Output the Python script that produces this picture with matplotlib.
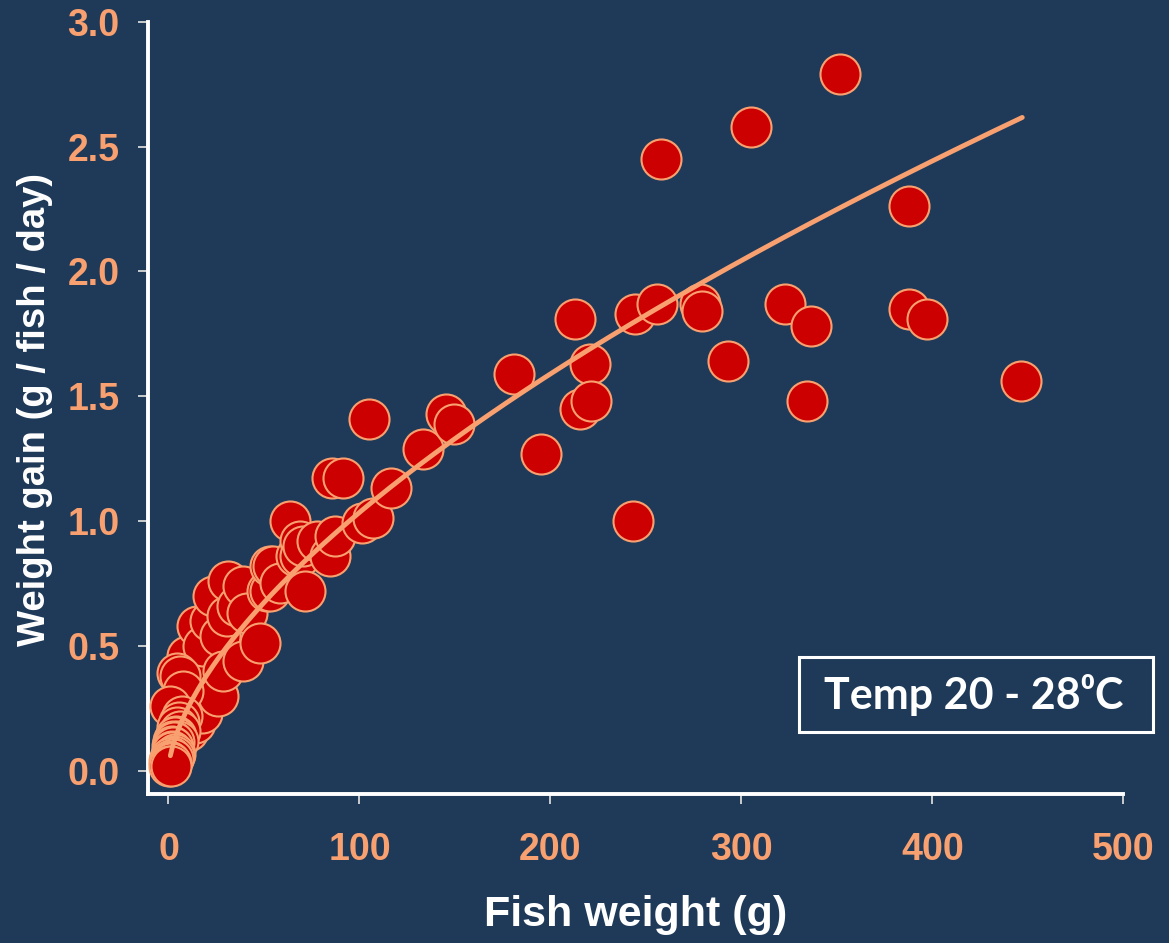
import numpy as np
import matplotlib
matplotlib.use("Agg")
import matplotlib.pyplot as plt
from matplotlib.patches import Rectangle

# ---- data ----
fish_weight = [
    351.7, 304.8, 258.0, 387.5,
    213.0, 244.2, 255.6, 278.3, 279.5, 322.6, 336.4, 387.5, 397.1, 292.8, 334.3, 446.5,
    243.0, 195.2, 180.9, 220.7, 215.4, 221.4,
    145.3, 149.5, 133.4, 105.0, 116.3, 85.4, 91.5,
    63.6, 107.2, 101.1, 87.2, 84.6, 68.8, 68.8, 77.6, 71.5, 54.9, 58.4, 53.1,
    66.8, 70.5,
    51.4, 53.1, 47.9, 31.3, 39.2, 23.5, 14.8, 21.7, 30.5, 40.9, 27.0, 18.2, 39.2,
    9.5, 6.0, 16.5, 28.7, 35.7, 26.1, 12.1, 6.9, 10.4, 5.1, 1.7, 0.5, 0.5, 1.5,
    17.4, 13.9, 1.0, 7.7, 4.3, 2.5, 6.0, 9.5, 3.0, 2.0, 4.0, 0.8, 1.2,
    1.0, 1.5, 2.0, 2.5, 3.0, 3.5, 4.5, 5.5, 2.2, 3.2,
]
weight_gain = [
    2.79, 2.58, 2.45, 2.26,
    1.81, 1.83, 1.87, 1.87, 1.84, 1.87, 1.78, 1.85, 1.81, 1.64, 1.48, 1.56,
    1.00, 1.27, 1.59, 1.63, 1.45, 1.48,
    1.43, 1.39, 1.29, 1.41, 1.13, 1.17, 1.17,
    1.00, 1.01, 0.99, 0.94, 0.86, 0.92, 0.86, 0.92, 0.72, 0.82, 0.75, 0.72,
    0.86, 0.90,
    0.72, 0.82, 0.51, 0.76, 0.74, 0.70, 0.58, 0.60, 0.62, 0.63, 0.54, 0.50, 0.44,
    0.46, 0.38, 0.42, 0.40, 0.66, 0.30, 0.26, 0.22, 0.16, 0.12, 0.08, 0.04, 0.02, 0.02,
    0.23, 0.19, 0.26, 0.32, 0.39, 0.12, 0.16, 0.20, 0.06, 0.10, 0.14, 0.05, 0.03,
    0.035, 0.055, 0.075, 0.095, 0.115, 0.135, 0.175, 0.195, 0.045, 0.065,
]

# fitted power curve  y = a * x^b  (coefficients)
fit_a = 0.0595
fit_b = 0.62
fit_x_start = 1.0
fit_x_end = 447.0

x_ticks = [0, 100, 200, 300, 400, 500]
y_ticks = [0.0, 0.5, 1.0, 1.5, 2.0, 2.5, 3.0]
y_tick_labels = ["0.0", "0.5", "1.0", "1.5", "2.0", "2.5", "3.0"]

x_label = "Fish weight (g)"
y_label = "Weight gain (g / fish / day)"
box_text = "Temp 20 - 28\u2070C"

# ---- style ----
BG = "#1F3A58"
ORANGE = "#F9A070"
RED = "#CC0000"
WHITE = "#FFFFFF"

plt.rcParams["font.family"] = ["Liberation Sans", "DejaVu Sans"]

W, H = 1169, 943
fig = plt.figure(figsize=(W / 100, H / 100), dpi=100, facecolor=BG)
ax = fig.add_axes([148 / W, (H - 794) / H, (1123.5 - 148) / W, (794 - 21.7) / H])
ax.set_facecolor(BG)

xw = np.asarray(fish_weight)
yg = np.asarray(weight_gain)
# drawing order: larger fish by ascending weight, then the small-fish
# column with the lowest points on top
big = np.where(xw >= 8)[0]
small = np.where(xw < 8)[0]
order = np.concatenate([big[np.argsort(xw[big], kind="stable")],
                        small[np.argsort(-yg[small], kind="stable")]])
ax.scatter(xw[order], yg[order], s=830, c=RED, edgecolors=ORANGE,
           linewidths=1.5, zorder=3)

xs = np.linspace(fit_x_start, fit_x_end, 400)
ax.plot(xs, fit_a * xs ** fit_b, color=ORANGE, lw=3.5, zorder=4,
        solid_capstyle="round")

ax.set_xlim(-10.7, 500)
ax.set_ylim(-0.094, 3.0)
ax.set_xticks(x_ticks)
ax.set_xticklabels([str(t) for t in x_ticks])
ax.set_yticks(y_ticks)
ax.set_yticklabels(y_tick_labels)

for side in ["top", "right"]:
    ax.spines[side].set_visible(False)
for side in ["left", "bottom"]:
    ax.spines[side].set_color(WHITE)
    ax.spines[side].set_linewidth(2.8)

ax.tick_params(axis="both", direction="out", length=7.5, width=1.3,
               color="#D8D8D8", labelcolor=ORANGE, labelsize=27)
ax.tick_params(axis="x", pad=20)
ax.tick_params(axis="y", pad=13)
for lab in ax.get_xticklabels() + ax.get_yticklabels():
    lab.set_fontweight("bold")

fig.text(636 / W, 1 - 915 / H, x_label, ha="center", va="center",
         color=WHITE, fontsize=31, fontweight="bold")
fig.text(35 / W, 1 - 410 / H, y_label, ha="center", va="center",
         rotation=90, color=WHITE, fontsize=27.5, fontweight="bold")

# annotation box
rect = Rectangle((799 / W, 1 - 732 / H), (1153 - 799) / W, (732 - 657) / H,
                 transform=fig.transFigure, facecolor="none",
                 edgecolor=WHITE, lw=2.2, zorder=10)
fig.add_artist(rect)
fig.text(974 / W, 1 - 695 / H, box_text, ha="center", va="center",
         color=WHITE, fontsize=31, fontweight="bold",
         family=["Lato", "DejaVu Sans"], zorder=11)

fig.savefig("out.png", dpi=100, facecolor=BG)
